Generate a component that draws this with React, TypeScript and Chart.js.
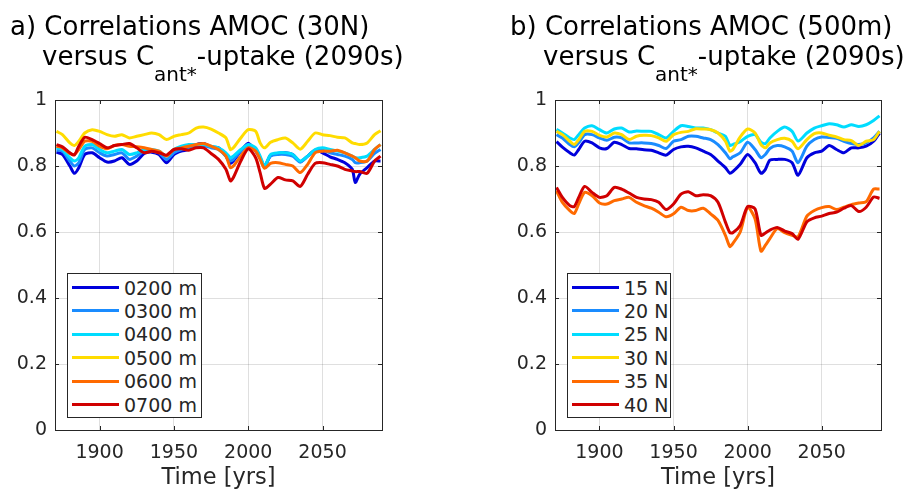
import React, { useEffect, useRef } from 'react';
import { Chart, registerables } from 'chart.js';

Chart.register(...registerables);

// ---------- data: panel a (AMOC at 30N, by depth) ----------
const yearsA = [1871, 1875, 1880, 1883, 1886, 1890, 1895, 1900, 1905, 1910, 1915, 1920, 1925, 1930, 1935, 1940, 1945, 1950, 1955, 1960, 1965, 1970, 1975, 1980, 1985, 1988, 1990, 1995, 2000, 2005, 2008, 2011, 2015, 2020, 2025, 2030, 2035, 2040, 2045, 2050, 2055, 2060, 2065, 2070, 2072, 2075, 2080, 2085, 2089];
const depth0200 = [0.842, 0.835, 0.80, 0.778, 0.795, 0.835, 0.84, 0.825, 0.812, 0.815, 0.825, 0.805, 0.815, 0.838, 0.842, 0.835, 0.81, 0.835, 0.845, 0.85, 0.865, 0.868, 0.858, 0.855, 0.83, 0.808, 0.815, 0.845, 0.869, 0.845, 0.823, 0.798, 0.832, 0.838, 0.84, 0.835, 0.813, 0.83, 0.848, 0.84, 0.828, 0.82, 0.81, 0.79, 0.75, 0.775, 0.795, 0.815, 0.815];
const depth0300 = [0.848, 0.845, 0.815, 0.80, 0.81, 0.85, 0.855, 0.84, 0.83, 0.835, 0.84, 0.82, 0.83, 0.845, 0.845, 0.84, 0.82, 0.84, 0.85, 0.855, 0.86, 0.862, 0.855, 0.85, 0.83, 0.815, 0.82, 0.845, 0.862, 0.85, 0.825, 0.80, 0.83, 0.835, 0.835, 0.83, 0.812, 0.83, 0.845, 0.848, 0.84, 0.835, 0.83, 0.82, 0.81, 0.81, 0.815, 0.838, 0.85];
const depth0400 = [0.855, 0.85, 0.825, 0.815, 0.825, 0.86, 0.865, 0.85, 0.84, 0.845, 0.85, 0.835, 0.84, 0.85, 0.85, 0.845, 0.83, 0.85, 0.86, 0.865, 0.865, 0.865, 0.86, 0.855, 0.84, 0.825, 0.83, 0.85, 0.865, 0.855, 0.83, 0.80, 0.835, 0.84, 0.84, 0.835, 0.815, 0.83, 0.85, 0.855, 0.85, 0.845, 0.84, 0.83, 0.825, 0.825, 0.83, 0.85, 0.865];
const depth0500 = [0.905, 0.895, 0.87, 0.862, 0.875, 0.90, 0.91, 0.905, 0.895, 0.89, 0.895, 0.885, 0.89, 0.895, 0.90, 0.895, 0.88, 0.89, 0.895, 0.90, 0.915, 0.918, 0.912, 0.90, 0.885, 0.85, 0.855, 0.885, 0.91, 0.905, 0.87, 0.855, 0.872, 0.88, 0.885, 0.87, 0.851, 0.875, 0.90, 0.895, 0.892, 0.887, 0.885, 0.87, 0.868, 0.865, 0.87, 0.895, 0.907];
const depth0600 = [0.86, 0.855, 0.838, 0.835, 0.85, 0.875, 0.875, 0.86, 0.852, 0.862, 0.865, 0.86, 0.858, 0.855, 0.85, 0.845, 0.83, 0.85, 0.855, 0.86, 0.865, 0.868, 0.86, 0.85, 0.83, 0.795, 0.80, 0.83, 0.855, 0.845, 0.82, 0.793, 0.808, 0.81, 0.805, 0.80, 0.78, 0.805, 0.84, 0.845, 0.845, 0.848, 0.84, 0.83, 0.825, 0.815, 0.815, 0.85, 0.865];
const depth0700 = [0.865, 0.858, 0.84, 0.833, 0.86, 0.887, 0.88, 0.868, 0.855, 0.862, 0.865, 0.868, 0.855, 0.84, 0.845, 0.84, 0.833, 0.85, 0.852, 0.848, 0.855, 0.855, 0.838, 0.82, 0.79, 0.755, 0.765, 0.815, 0.852, 0.825, 0.78, 0.732, 0.745, 0.765, 0.758, 0.755, 0.738, 0.775, 0.808, 0.81, 0.805, 0.80, 0.79, 0.785, 0.783, 0.783, 0.778, 0.815, 0.83];
const labelsA = ['0200 m', '0300 m', '0400 m', '0500 m', '0600 m', '0700 m'];

// ---------- data: panel b (AMOC at 500m, by latitude) ----------
const yearsB = [1871, 1875, 1880, 1883, 1886, 1890, 1895, 1900, 1905, 1910, 1915, 1920, 1925, 1930, 1935, 1940, 1945, 1950, 1955, 1960, 1965, 1970, 1975, 1980, 1985, 1988, 1990, 1995, 2000, 2005, 2009, 2012, 2015, 2020, 2025, 2030, 2034, 2040, 2045, 2050, 2055, 2060, 2065, 2070, 2075, 2080, 2085, 2089];
const lat15N = [0.874, 0.857, 0.84, 0.833, 0.85, 0.875, 0.87, 0.855, 0.853, 0.872, 0.865, 0.853, 0.852, 0.849, 0.848, 0.84, 0.833, 0.85, 0.858, 0.86, 0.855, 0.845, 0.835, 0.815, 0.795, 0.778, 0.783, 0.805, 0.835, 0.81, 0.778, 0.79, 0.818, 0.82, 0.82, 0.81, 0.772, 0.825, 0.84, 0.845, 0.862, 0.85, 0.84, 0.855, 0.855, 0.86, 0.875, 0.90];
const lat20N = [0.895, 0.885, 0.865, 0.858, 0.87, 0.895, 0.895, 0.885, 0.878, 0.887, 0.885, 0.87, 0.87, 0.87, 0.868, 0.862, 0.853, 0.875, 0.88, 0.89, 0.89, 0.885, 0.88, 0.865, 0.84, 0.822, 0.828, 0.84, 0.872, 0.85, 0.825, 0.835, 0.853, 0.862, 0.858, 0.845, 0.81, 0.86, 0.88, 0.888, 0.886, 0.884, 0.875, 0.868, 0.865, 0.87, 0.885, 0.905];
const lat25N = [0.911, 0.90, 0.885, 0.88, 0.895, 0.915, 0.922, 0.91, 0.90, 0.912, 0.915, 0.903, 0.906, 0.905, 0.905, 0.895, 0.885, 0.905, 0.922, 0.92, 0.915, 0.915, 0.91, 0.90, 0.89, 0.862, 0.865, 0.874, 0.89, 0.895, 0.872, 0.868, 0.885, 0.905, 0.918, 0.905, 0.876, 0.90, 0.915, 0.922, 0.928, 0.925, 0.918, 0.925, 0.92, 0.925, 0.938, 0.952];
const lat30N = [0.905, 0.895, 0.875, 0.865, 0.88, 0.905, 0.905, 0.893, 0.888, 0.90, 0.895, 0.88, 0.89, 0.893, 0.892, 0.885, 0.875, 0.895, 0.902, 0.905, 0.913, 0.912, 0.91, 0.90, 0.875, 0.845, 0.85, 0.888, 0.912, 0.90, 0.865, 0.855, 0.87, 0.88, 0.884, 0.875, 0.852, 0.88, 0.898, 0.90, 0.893, 0.888, 0.88, 0.877, 0.862, 0.875, 0.88, 0.905];
const lat35N = [0.725, 0.69, 0.665, 0.656, 0.685, 0.72, 0.71, 0.688, 0.685, 0.695, 0.70, 0.705, 0.69, 0.68, 0.672, 0.66, 0.646, 0.655, 0.675, 0.665, 0.665, 0.672, 0.655, 0.635, 0.59, 0.556, 0.565, 0.60, 0.675, 0.64, 0.542, 0.56, 0.58, 0.61, 0.598, 0.59, 0.585, 0.648, 0.665, 0.674, 0.677, 0.668, 0.675, 0.683, 0.688, 0.692, 0.73, 0.73];
const lat40N = [0.735, 0.705, 0.68, 0.677, 0.705, 0.738, 0.72, 0.705, 0.71, 0.735, 0.73, 0.718, 0.705, 0.70, 0.698, 0.69, 0.668, 0.685, 0.715, 0.722, 0.71, 0.713, 0.71, 0.69, 0.63, 0.598, 0.598, 0.62, 0.677, 0.67, 0.59, 0.597, 0.606, 0.614, 0.603, 0.595, 0.578, 0.631, 0.643, 0.648, 0.656, 0.66, 0.672, 0.68, 0.662, 0.675, 0.706, 0.702];
const labelsB = ['15 N', '20 N', '25 N', '30 N', '35 N', '40 N'];

// ---------- axes ----------
const xMin = 1870;
const xMax = 2090;
const xTickValues = [1900, 1950, 2000, 2050];
const yMin = 0;
const yMax = 1;
const yStep = 0.2;
const xTitle = 'Time [yrs]';

const seriesColors = ['#0000dc', '#1a8cff', '#00dcff', '#ffdc00', '#ff6a00', '#d00000'];

const FONT = "'DejaVu Sans', 'Noto Sans', sans-serif";
const TEXT = '#262626';
const GRID = 'rgba(38,38,38,0.15)';

const boxPlugin = {
  id: 'matlabBox',
  afterDraw(chart: any) {
    const { ctx, chartArea } = chart;
    const { left, right, top, bottom } = chartArea;
    const xs = chart.scales.x;
    const ys = chart.scales.y;
    ctx.save();
    ctx.strokeStyle = TEXT;
    ctx.lineWidth = 1;
    ctx.beginPath();
    const tl = 4;
    xs.ticks.forEach((t: any) => {
      const px = Math.round(xs.getPixelForValue(t.value)) + 0.5;
      ctx.moveTo(px, bottom);
      ctx.lineTo(px, bottom - tl);
      ctx.moveTo(px, top);
      ctx.lineTo(px, top + tl);
    });
    ys.ticks.forEach((t: any) => {
      const py = Math.round(ys.getPixelForValue(t.value)) + 0.5;
      ctx.moveTo(left, py);
      ctx.lineTo(left + tl, py);
      ctx.moveTo(right, py);
      ctx.lineTo(right - tl, py);
    });
    ctx.stroke();
    ctx.strokeRect(Math.round(left) + 0.5, Math.round(top) + 0.5, Math.round(right - left), Math.round(bottom - top));
    ctx.restore();
  },
};

type PanelProps = {
  left: number;
  width: number;
  yAxisWidth: number;
  padRight: number;
  years: number[];
  series: number[][];
  labels: string[];
};

function Panel({ left, width, yAxisWidth, padRight, years, series, labels }: PanelProps) {
  const ref = useRef<HTMLCanvasElement | null>(null);
  useEffect(() => {
    if (!ref.current) return;
    const chart = new Chart(ref.current, {
      type: 'line',
      data: {
        datasets: series.map((vals, i) => ({
          label: labels[i],
          data: years.map((yr, j) => ({ x: yr, y: vals[j] })),
          borderColor: seriesColors[i],
          backgroundColor: seriesColors[i],
          borderWidth: 3,
          pointRadius: 0,
          tension: 0.25,
          fill: false,
          order: series.length - i,
        })),
      },
      options: {
        animation: false,
        responsive: false,
        maintainAspectRatio: false,
        events: [],
        layout: { padding: { left: 0, right: padRight, top: 100, bottom: 2 } },
        plugins: {
          legend: { display: false },
          tooltip: { enabled: false },
          title: { display: false },
        },
        scales: {
          x: {
            type: 'linear',
            min: xMin,
            max: xMax,
            afterBuildTicks: (s: any) => {
              s.ticks = xTickValues.map((v) => ({ value: v }));
            },
            afterFit: (s: any) => {
              s.height = 59;
            },
            grid: { color: GRID, drawTicks: false, lineWidth: 1 },
            border: { display: false },
            ticks: {
              color: TEXT,
              font: { family: FONT, size: 19 },
              padding: 12,
              maxRotation: 0,
              autoSkip: false,
              callback: (v: any) => String(v),
            },
            title: {
              display: true,
              text: xTitle,
              color: TEXT,
              font: { family: FONT, size: 22.5, lineHeight: 1 },
              padding: { top: 0, bottom: 0 },
            },
          },
          y: {
            type: 'linear',
            min: yMin,
            max: yMax,
            afterFit: (s: any) => {
              s.width = yAxisWidth;
            },
            grid: { color: GRID, drawTicks: false, lineWidth: 1 },
            border: { display: false },
            ticks: {
              stepSize: yStep,
              color: TEXT,
              font: { family: FONT, size: 19 },
              padding: 8,
              callback: (v: any) => String(Number(Number(v).toFixed(1))),
            },
          },
        },
      } as any,
      plugins: [boxPlugin],
    });
    return () => chart.destroy();
  }, []);
  return (
    <canvas
      ref={ref}
      width={width}
      height={491}
      style={{ position: 'absolute', left, top: 0, width, height: 491 }}
    />
  );
}

function Legend({ left, width, labels }: { left: number; width: number; labels: string[] }) {
  return (
    <div
      style={{
        position: 'absolute',
        left,
        top: 273,
        width,
        height: 145,
        boxSizing: 'border-box',
        border: `1px solid ${TEXT}`,
        background: '#fff',
      }}
    >
      {labels.map((lab, i) => (
        <div key={lab} style={{ position: 'absolute', left: 0, top: 13.5 + i * 23.4 - 12, height: 24, width: '100%' }}>
          <div
            style={{
              position: 'absolute',
              left: 4,
              top: 10.5,
              width: 47,
              height: 3,
              background: seriesColors[i],
            }}
          />
          <div
            style={{
              position: 'absolute',
              left: 56,
              top: 0,
              height: 24,
              lineHeight: '24px',
              fontSize: 19,
              fontFamily: FONT,
              color: TEXT,
              whiteSpace: 'nowrap',
            }}
          >
            {lab}
          </div>
        </div>
      ))}
    </div>
  );
}

function Title({ left1, left2, line1 }: { left1: number; left2: number; line1: string }) {
  const base: React.CSSProperties = {
    position: 'absolute',
    fontFamily: FONT,
    fontSize: 26,
    lineHeight: '26px',
    color: '#000',
    whiteSpace: 'nowrap',
  };
  return (
    <>
      <div style={{ ...base, left: left1, top: 13 }}>{line1}</div>
      <div style={{ ...base, left: left2, top: 43 }}>
        versus C
        <span style={{ fontSize: 20, position: 'relative', top: 16 }}>ant*</span>
        -uptake (2090s)
      </div>
    </>
  );
}

export default function App() {
  return (
    <div
      style={{
        position: 'absolute',
        left: 0,
        top: 0,
        width: 903,
        height: 491,
        background: '#fff',
        overflow: 'hidden',
      }}
    >
      <Panel
        left={0}
        width={451}
        yAxisWidth={55}
        padRight={69}
        years={yearsA}
        series={[depth0200, depth0300, depth0400, depth0500, depth0600, depth0700]}
        labels={labelsA}
      />
      <Panel
        left={451}
        width={452}
        yAxisWidth={104}
        padRight={22}
        years={yearsB}
        series={[lat15N, lat20N, lat25N, lat30N, lat35N, lat40N]}
        labels={labelsB}
      />
      <Legend left={67} width={135} labels={labelsA} />
      <Legend left={567} width={104} labels={labelsB} />
      <Title left1={10} left2={42} line1="a) Correlations AMOC (30N)" />
      <Title left1={510} left2={543} line1="b) Correlations AMOC (500m)" />
    </div>
  );
}
